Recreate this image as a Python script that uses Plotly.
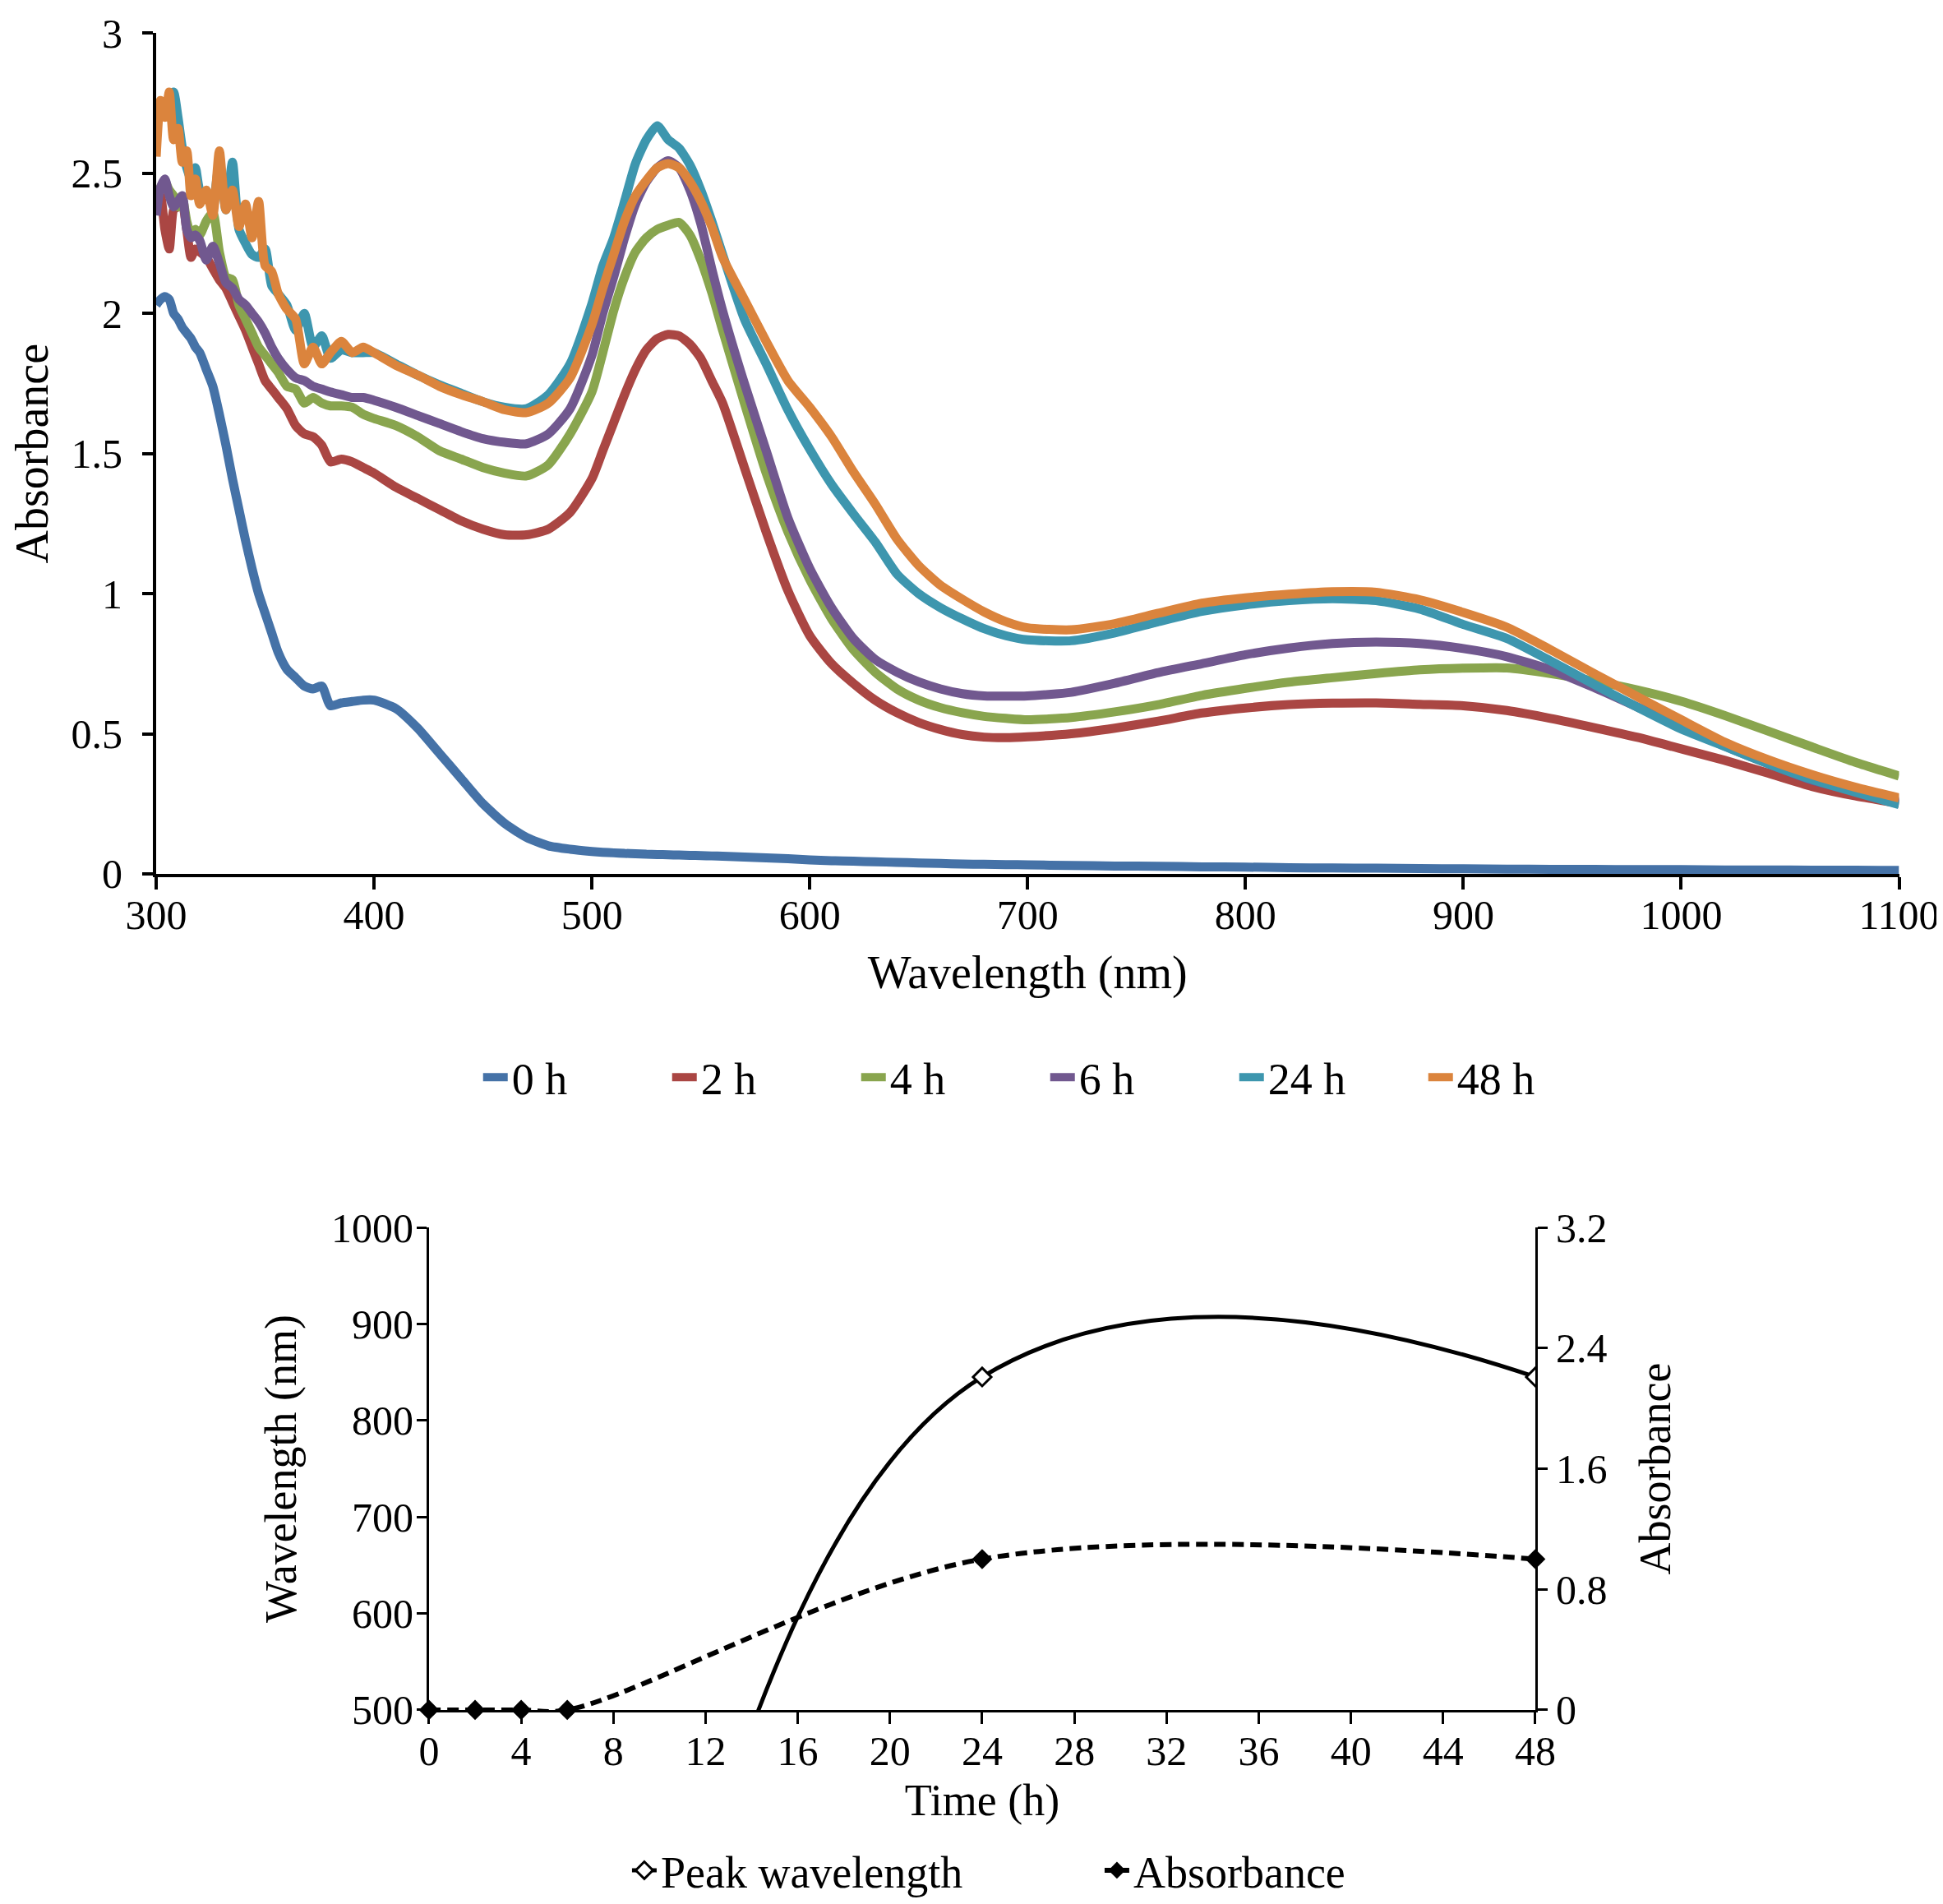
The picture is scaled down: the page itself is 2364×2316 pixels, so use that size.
import plotly.graph_objects as go

# ---------------- Top chart data ----------------
WAVELENGTH = [300, 302, 304, 306, 308, 310, 312, 314, 316, 318, 320,
              323, 326, 329, 332, 335, 338, 341, 344, 347, 350, 353, 356,
              360, 364, 368, 372, 376, 380, 385, 390, 395, 400,
              410, 420, 430, 440, 450, 460, 470, 480, 490, 500,
              505, 510, 515, 520, 525, 530, 535, 540, 545, 550, 555, 560,
              570, 580, 590, 600, 610, 620, 630, 640, 650, 660, 670, 680, 690, 700,
              720, 740, 760, 780, 800, 820, 840, 860, 880, 900,
              920, 940, 960, 980, 1000, 1020, 1040, 1060, 1080, 1100]

ABS_0H = [2.03, 2.05, 2.06, 2.05, 2.00, 1.98, 1.95, 1.93, 1.91, 1.88, 1.86,
          1.80, 1.74, 1.64, 1.53, 1.41, 1.30, 1.19, 1.09, 1.00, 0.93, 0.86, 0.79,
          0.73, 0.70, 0.67, 0.66, 0.67, 0.60, 0.61, 0.615, 0.62, 0.62,
          0.59, 0.52, 0.43, 0.34, 0.25, 0.18, 0.13, 0.10, 0.088, 0.08,
          0.077, 0.075, 0.073, 0.072, 0.070, 0.069, 0.068, 0.067, 0.066, 0.065, 0.064, 0.063,
          0.060, 0.057, 0.054, 0.050, 0.047, 0.045, 0.043, 0.041, 0.039, 0.037, 0.035, 0.034, 0.033, 0.032,
          0.030, 0.028, 0.027, 0.025, 0.024, 0.022, 0.021, 0.020, 0.019, 0.018,
          0.017, 0.016, 0.016, 0.015, 0.015, 0.014, 0.014, 0.013, 0.013, 0.012]

ABS_2H = [2.37, 2.42, 2.30, 2.23, 2.37, 2.38, 2.39, 2.30, 2.20, 2.23, 2.22,
          2.20, 2.16, 2.12, 2.09, 2.04, 1.99, 1.94, 1.88, 1.82, 1.76, 1.73, 1.70,
          1.66, 1.60, 1.57, 1.56, 1.53, 1.47, 1.48, 1.47, 1.45, 1.43,
          1.38, 1.34, 1.30, 1.26, 1.23, 1.21, 1.21, 1.23, 1.29, 1.41,
          1.51, 1.61, 1.71, 1.80, 1.87, 1.91, 1.925, 1.92, 1.89, 1.84, 1.76, 1.68,
          1.45, 1.22, 1.01, 0.85, 0.75, 0.68, 0.62, 0.575, 0.54, 0.515, 0.497, 0.488, 0.486, 0.489,
          0.50, 0.52, 0.545, 0.574, 0.592, 0.604, 0.609, 0.61, 0.605, 0.60,
          0.583, 0.555, 0.522, 0.487, 0.446, 0.405, 0.359, 0.312, 0.278, 0.252]

ABS_4H = [2.40, 2.45, 2.47, 2.44, 2.42, 2.38, 2.41, 2.33, 2.28, 2.30, 2.28,
          2.33, 2.36, 2.22, 2.13, 2.12, 2.03, 1.98, 1.93, 1.88, 1.85, 1.82, 1.79,
          1.74, 1.73, 1.68, 1.70, 1.68, 1.67, 1.67, 1.665, 1.64, 1.625,
          1.60, 1.56, 1.51, 1.48, 1.45, 1.43, 1.42, 1.46, 1.57, 1.72,
          1.86, 2.01, 2.13, 2.22, 2.27, 2.30, 2.315, 2.325, 2.28, 2.19, 2.075, 1.94,
          1.68, 1.43, 1.22, 1.05, 0.91, 0.80, 0.72, 0.66, 0.62, 0.593, 0.575, 0.562, 0.555, 0.55,
          0.558, 0.578, 0.604, 0.637, 0.662, 0.684, 0.70, 0.715, 0.728, 0.734,
          0.735, 0.715, 0.688, 0.656, 0.616, 0.565, 0.509, 0.453, 0.398, 0.349]

ABS_6H = [2.35, 2.45, 2.48, 2.42, 2.38, 2.40, 2.42, 2.30, 2.27, 2.28, 2.26,
          2.19, 2.24, 2.18, 2.11, 2.09, 2.05, 2.03, 2.00, 1.97, 1.93, 1.88, 1.84,
          1.80, 1.77, 1.76, 1.74, 1.73, 1.72, 1.71, 1.70, 1.70, 1.69,
          1.665, 1.636, 1.607, 1.578, 1.553, 1.54, 1.535, 1.57, 1.66, 1.85,
          2.00, 2.13, 2.27, 2.39, 2.47, 2.52, 2.545, 2.52, 2.44, 2.32, 2.16, 2.01,
          1.75, 1.51, 1.27, 1.09, 0.95, 0.84, 0.765, 0.72, 0.685, 0.66, 0.643, 0.635, 0.634, 0.635,
          0.648, 0.68, 0.718, 0.75, 0.782, 0.806, 0.822, 0.827, 0.822, 0.804,
          0.775, 0.728, 0.665, 0.595, 0.526, 0.456, 0.393, 0.334, 0.295, 0.257]

ABS_24H = [2.75, 2.70, 2.74, 2.76, 2.79, 2.70, 2.59, 2.52, 2.48, 2.52, 2.44,
           2.42, 2.40, 2.54, 2.37, 2.54, 2.30, 2.25, 2.21, 2.20, 2.23, 2.10, 2.07,
           2.03, 1.94, 2.00, 1.88, 1.92, 1.84, 1.87, 1.86, 1.86, 1.86,
           1.82, 1.78, 1.745, 1.715, 1.685, 1.665, 1.66, 1.71, 1.82, 2.035,
           2.17, 2.27, 2.40, 2.535, 2.62, 2.67, 2.62, 2.59, 2.53, 2.44, 2.33, 2.21,
           1.98, 1.82, 1.655, 1.515, 1.39, 1.285, 1.185, 1.07, 1.00, 0.95, 0.91, 0.875, 0.85, 0.835,
           0.832, 0.86, 0.90, 0.937, 0.96, 0.975, 0.982, 0.975, 0.945, 0.89,
           0.84, 0.76, 0.676, 0.594, 0.517, 0.455, 0.393, 0.337, 0.291, 0.247]

ABS_48H = [2.56, 2.76, 2.70, 2.79, 2.62, 2.66, 2.54, 2.58, 2.42, 2.48, 2.39,
           2.44, 2.35, 2.58, 2.37, 2.44, 2.31, 2.39, 2.27, 2.40, 2.17, 2.15, 2.07,
           2.015, 1.98, 1.82, 1.88, 1.82, 1.86, 1.90, 1.86, 1.88, 1.86,
           1.815, 1.78, 1.74, 1.71, 1.685, 1.656, 1.646, 1.68, 1.77, 1.96,
           2.09, 2.21, 2.33, 2.42, 2.475, 2.52, 2.535, 2.52, 2.47, 2.40, 2.31, 2.20,
           2.05, 1.90, 1.76, 1.665, 1.56, 1.435, 1.32, 1.195, 1.10, 1.03, 0.98, 0.935, 0.90, 0.878,
           0.871, 0.893, 0.93, 0.966, 0.985, 0.998, 1.007, 1.005, 0.978, 0.933,
           0.88, 0.80, 0.715, 0.632, 0.55, 0.47, 0.407, 0.354, 0.309, 0.271]

SERIES_NAMES = ["0 h", "2 h", "4 h", "6 h", "24 h", "48 h"]
SERIES_VALUES = [ABS_0H, ABS_2H, ABS_4H, ABS_6H, ABS_24H, ABS_48H]
SERIES_COLORS = ["#4572A7", "#AA4643", "#89A54E", "#71588F", "#3D96AE", "#DB843D"]

# ---------------- Bottom chart data ----------------
TIME_H = [0, 2, 4, 6, 24, 48]
PEAK_WAVELENGTH = [0, 0, 0, 0, 845, 845]
PEAK_ABSORBANCE = [0, 0, 0, 0, 1.0, 1.0]

FONT = "Liberation Serif"

fig = go.Figure()

for name, vals, col in zip(SERIES_NAMES, SERIES_VALUES, SERIES_COLORS):
    fig.add_trace(go.Scatter(
        x=WAVELENGTH, y=vals, mode="lines", name=name,
        line=dict(color=col, width=11, shape="spline", smoothing=0.6),
        xaxis="x", yaxis="y", legend="legend",
    ))

fig.add_trace(go.Scatter(
    x=TIME_H, y=PEAK_WAVELENGTH, mode="lines+markers", name="Peak wavelength",
    line=dict(color="black", width=5, shape="spline", smoothing=1.3),
    marker=dict(symbol="diamond", size=17, color="white",
                line=dict(color="black", width=3)),
    xaxis="x2", yaxis="y2", legend="legend2",
))
fig.add_trace(go.Scatter(
    x=TIME_H, y=PEAK_ABSORBANCE, mode="lines+markers", name="Absorbance",
    line=dict(color="black", width=6, dash="14px,8px", shape="spline", smoothing=1.0),
    marker=dict(symbol="diamond", size=19, color="black"),
    cliponaxis=False,
    xaxis="x2", yaxis="y3", legend="legend2",
))

axis_common = dict(showgrid=False, zeroline=False, showline=True, linecolor="black",
                   ticks="outside", tickcolor="black", automargin=False,
                   ticklabeloverflow="allow")

fig.update_layout(
    width=2364, height=2316,
    margin=dict(l=0, r=0, t=0, b=0),
    paper_bgcolor="white", plot_bgcolor="white",
    font=dict(family=FONT, color="black", size=52),
    showlegend=True,
    xaxis=dict(domain=[0.077, 0.974], anchor="y", range=[300, 1100], tick0=300, dtick=100,
               linewidth=4, tickwidth=4, ticklen=15, ticklabelstandoff=-12,
               tickfont=dict(family=FONT, size=50),
               title=dict(text="Wavelength (nm)", font=dict(family=FONT, size=56), standoff=24),
               **axis_common),
    yaxis=dict(domain=[0.5445, 0.986], anchor="x", range=[0, 3], dtick=0.5,
               linewidth=4, tickwidth=4, ticklen=13, ticklabelstandoff=14,
               tickfont=dict(family=FONT, size=50),
               title=dict(text="Absorbance", font=dict(family=FONT, size=56), standoff=40),
               **axis_common),
    xaxis2=dict(domain=[0.2174, 0.7868], anchor="y2", range=[0, 48], tick0=0, dtick=4,
                linewidth=3, tickwidth=3, ticklen=14, ticklabelstandoff=-10,
                tickfont=dict(family=FONT, size=50),
                title=dict(text="Time (h)", font=dict(family=FONT, size=54), standoff=14),
                **axis_common),
    yaxis2=dict(domain=[0.1054, 0.3588], anchor="x2", range=[500, 1000], dtick=100,
                linewidth=3, tickwidth=3, ticklen=12, ticklabelstandoff=-6,
                tickfont=dict(family=FONT, size=50),
                title=dict(text="Wavelength (nm)", font=dict(family=FONT, size=54), standoff=26),
                **axis_common),
    yaxis3=dict(overlaying="y2", side="right", anchor="x2", range=[0, 3.2], dtick=0.8,
                linewidth=3, tickwidth=3, ticklen=12,
                tickfont=dict(family=FONT, size=50),
                title=dict(text="Absorbance", font=dict(family=FONT, size=54), standoff=40),
                **axis_common),
    legend=dict(orientation="h", x=0.535, xanchor="center", y=0.4375, yanchor="middle",
                font=dict(family=FONT, size=54), bgcolor="rgba(0,0,0,0)",
                entrywidth=185, entrywidthmode="pixels"),
    legend2=dict(orientation="h", x=0.563, xanchor="center", y=0.021, yanchor="middle",
                 font=dict(family=FONT, size=54), bgcolor="rgba(0,0,0,0)",
                 entrywidth=530, entrywidthmode="pixels"),
)

fig.write_html("out.html")
